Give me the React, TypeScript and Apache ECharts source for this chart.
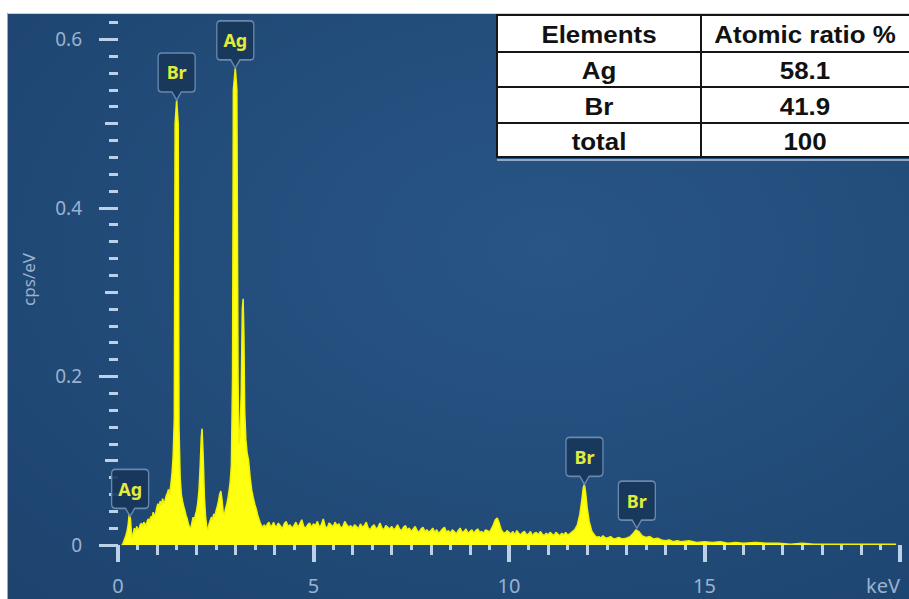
import React, { useEffect, useRef } from 'react';
import * as echarts from 'echarts';

// EDS spectrum, [energy keV, intensity cps/eV]
const spectrumLow: [number, number][] = [
  [0.10, 0], [0.13, 0.002], [0.16, 0.006], [0.20, 0.011], [0.23, 0.016], [0.26, 0.024],
  [0.28, 0.034], [0.30, 0.038], [0.32, 0.030], [0.34, 0.016], [0.36, 0.009], [0.39, 0.014],
  [0.42, 0.020], [0.45, 0.016], [0.48, 0.022], [0.51, 0.018], [0.54, 0.019], [0.57, 0.024],
  [0.60, 0.026], [0.63, 0.021], [0.66, 0.027], [0.69, 0.025], [0.72, 0.023], [0.75, 0.029],
  [0.78, 0.031], [0.81, 0.027], [0.84, 0.034], [0.87, 0.031], [0.90, 0.039], [0.93, 0.035],
  [0.96, 0.037], [0.99, 0.044], [1.02, 0.049], [1.05, 0.045], [1.08, 0.052], [1.11, 0.047],
  [1.14, 0.055], [1.17, 0.050], [1.20, 0.052], [1.23, 0.058], [1.26, 0.061], [1.29, 0.066],
  [1.32, 0.060], [1.35, 0.071], [1.38, 0.084], [1.41, 0.105], [1.44, 0.150], [1.46, 0.500],
  [1.50, 0.528], [1.54, 0.500], [1.56, 0.140], [1.59, 0.080], [1.62, 0.060], [1.65, 0.052],
  [1.68, 0.046], [1.71, 0.041], [1.74, 0.035], [1.77, 0.031], [1.80, 0.025], [1.83, 0.021],
  [1.86, 0.020], [1.89, 0.026], [1.92, 0.033], [1.95, 0.029], [1.98, 0.036], [2.01, 0.041],
  [2.04, 0.050], [2.07, 0.064], [2.10, 0.092], [2.13, 0.128], [2.15, 0.138], [2.18, 0.104],
  [2.21, 0.056], [2.24, 0.034], [2.27, 0.021], [2.30, 0.018], [2.33, 0.025], [2.36, 0.029],
  [2.39, 0.033], [2.42, 0.030], [2.45, 0.037], [2.48, 0.034], [2.51, 0.041], [2.54, 0.046],
  [2.57, 0.052], [2.60, 0.060], [2.63, 0.064], [2.66, 0.054], [2.69, 0.039], [2.72, 0.036],
  [2.75, 0.043], [2.78, 0.048], [2.81, 0.055], [2.84, 0.064], [2.87, 0.075], [2.90, 0.095],
  [2.93, 0.200], [2.95, 0.540], [3.00, 0.566], [3.04, 0.540], [3.07, 0.200], [3.09, 0.120],
  [3.12, 0.130], [3.15, 0.180], [3.18, 0.280], [3.20, 0.292], [3.22, 0.250], [3.24, 0.160],
  [3.27, 0.125], [3.30, 0.110], [3.34, 0.100], [3.38, 0.080], [3.42, 0.065], [3.46, 0.056],
  [3.50, 0.048], [3.54, 0.042], [3.58, 0.034], [3.61, 0.030], [3.64, 0.026], [3.67, 0.023],
  [3.70, 0.020], [3.74, 0.024], [3.78, 0.021], [3.82, 0.025], [3.86, 0.027], [3.90, 0.022],
  [3.94, 0.023], [3.98, 0.027],
];

const spectrumMid: [number, number][] = [
  [4.00, 0.024], [4.05, 0.021], [4.10, 0.026], [4.15, 0.023], [4.20, 0.019], [4.25, 0.025],
  [4.30, 0.028], [4.35, 0.022], [4.40, 0.024], [4.45, 0.020], [4.50, 0.023], [4.55, 0.027],
  [4.60, 0.021], [4.65, 0.025], [4.70, 0.030], [4.75, 0.022], [4.80, 0.020], [4.85, 0.024],
  [4.90, 0.026], [4.95, 0.021], [5.00, 0.025], [5.05, 0.023], [5.10, 0.028], [5.15, 0.021],
  [5.20, 0.024], [5.25, 0.031], [5.30, 0.022], [5.35, 0.020], [5.40, 0.026], [5.45, 0.024],
  [5.50, 0.021], [5.55, 0.027], [5.60, 0.023], [5.65, 0.025], [5.70, 0.020], [5.75, 0.022],
  [5.80, 0.028], [5.85, 0.024], [5.90, 0.021], [5.95, 0.023], [6.00, 0.020], [6.05, 0.024],
  [6.10, 0.022], [6.15, 0.019], [6.20, 0.025], [6.25, 0.021], [6.30, 0.023], [6.35, 0.027],
  [6.40, 0.020], [6.45, 0.018], [6.50, 0.022], [6.55, 0.024], [6.60, 0.019], [6.65, 0.021],
  [6.70, 0.026], [6.75, 0.020], [6.80, 0.018], [6.85, 0.023], [6.90, 0.021], [6.95, 0.019],
  [7.00, 0.022], [7.05, 0.018], [7.10, 0.020], [7.15, 0.024], [7.20, 0.019], [7.25, 0.017],
  [7.30, 0.021], [7.35, 0.023], [7.40, 0.018], [7.45, 0.020], [7.50, 0.016], [7.55, 0.019],
  [7.60, 0.022], [7.65, 0.017], [7.70, 0.015], [7.75, 0.019], [7.80, 0.021], [7.85, 0.016],
  [7.90, 0.018], [7.95, 0.015], [8.00, 0.017], [8.05, 0.020], [8.10, 0.015], [8.15, 0.018],
  [8.20, 0.014], [8.25, 0.016], [8.30, 0.019], [8.35, 0.021], [8.40, 0.015], [8.45, 0.017],
  [8.50, 0.014], [8.55, 0.018], [8.60, 0.016], [8.65, 0.013], [8.70, 0.017], [8.75, 0.020],
  [8.80, 0.015], [8.85, 0.016], [8.90, 0.019], [8.95, 0.014], [9.00, 0.016], [9.05, 0.018],
  [9.10, 0.014], [9.15, 0.017], [9.20, 0.019], [9.25, 0.015], [9.30, 0.016], [9.35, 0.014],
  [9.40, 0.018], [9.45, 0.017], [9.50, 0.015], [9.55, 0.019], [9.60, 0.024], [9.65, 0.030],
  [9.70, 0.032], [9.75, 0.026], [9.80, 0.018], [9.85, 0.015], [9.90, 0.014], [9.95, 0.017],
];

const spectrumHigh: [number, number][] = [
  [10.0, 0.015], [10.05, 0.013], [10.1, 0.016], [10.15, 0.012], [10.2, 0.017], [10.25, 0.014],
  [10.3, 0.012], [10.35, 0.015], [10.4, 0.016], [10.45, 0.012], [10.5, 0.013], [10.55, 0.016],
  [10.6, 0.011], [10.65, 0.014], [10.7, 0.015], [10.75, 0.012], [10.8, 0.016], [10.85, 0.013],
  [10.9, 0.011], [10.95, 0.014], [11.0, 0.012], [11.05, 0.015], [11.1, 0.013], [11.15, 0.011],
  [11.2, 0.015], [11.25, 0.013], [11.3, 0.011], [11.35, 0.014], [11.4, 0.012], [11.45, 0.015],
  [11.5, 0.012], [11.55, 0.013], [11.6, 0.015], [11.68, 0.018], [11.75, 0.024], [11.81, 0.036],
  [11.86, 0.052], [11.90, 0.068], [11.93, 0.072], [11.96, 0.062], [12.0, 0.044], [12.05, 0.028],
  [12.12, 0.016], [12.2, 0.011], [12.25, 0.009], [12.3, 0.010], [12.35, 0.008], [12.4, 0.011],
  [12.45, 0.009], [12.5, 0.008], [12.6, 0.010], [12.65, 0.008], [12.7, 0.007], [12.8, 0.009],
  [12.85, 0.008], [12.9, 0.007], [13.0, 0.008], [13.1, 0.010], [13.18, 0.014], [13.25, 0.018],
  [13.32, 0.016], [13.4, 0.011], [13.5, 0.009], [13.6, 0.010], [13.7, 0.007], [13.8, 0.008],
  [13.9, 0.006], [14.0, 0.005], [14.1, 0.006], [14.2, 0.004], [14.3, 0.005], [14.4, 0.004],
  [14.6, 0.005], [14.8, 0.003], [15.0, 0.004], [15.2, 0.003], [15.4, 0.004], [15.6, 0.002],
  [15.8, 0.003], [16.0, 0.002], [16.3, 0.003], [16.6, 0.002], [16.9, 0.002], [17.2, 0.001],
  [17.5, 0.002], [17.8, 0.001], [18.2, 0.001], [18.6, 0.001], [19.0, 0.001], [19.4, 0.001],
  [19.9, 0.001],
];

// identified lines: element, energy (keV), callout tip (cps/eV)
const peakElements = ['Ag', 'Br', 'Ag', 'Br', 'Br'];
const peakEnergies = [0.31, 1.50, 3.00, 11.93, 13.27];
const peakTips = [0.034, 0.528, 0.566, 0.072, 0.020];

// axis ticks
const yMajorTicks = [0, 0.2, 0.4, 0.6];
const yMidTicks = [0.1, 0.3, 0.5];
const yMinorStep = 0.02;
const yMax = 0.63;
const xMax = 20;

// composition table
const tableHeader = ['Elements', 'Atomic ratio %'];
const tableElements = ['Ag', 'Br', 'total'];
const tableRatios = ['58.1', '41.9', '100'];

const uiFont = '"Noto Sans", "Open Sans", sans-serif';
const tableFont = '"Liberation Sans", Arial, sans-serif';
const tickColor = '#bcd0e8';
const labelColor = '#9bb2cf';

function buildOption() {
  const spectrum = [...spectrumLow, ...spectrumMid, ...spectrumHigh];

  const yMinorTicks: number[] = [];
  for (let i = 0; i * yMinorStep <= yMax; i++) yMinorTicks.push(+(i * yMinorStep).toFixed(2));

  const xBase = {
    type: 'value', min: 0, max: xMax, position: 'bottom', offset: 6,
    axisLine: { show: false }, splitLine: { show: false }, axisLabel: { show: false },
  };
  const yBase = {
    type: 'value', min: 0, max: yMax, position: 'left', offset: 11,
    axisLine: { show: false }, splitLine: { show: false }, axisLabel: { show: false },
  };

  // table geometry
  const tL = 497, tT = 15, tR = 912, colX = 701;
  const rowY = [15, 52, 87, 123, 157];
  const tableChildren: any[] = [
    { type: 'rect', z: 100, shape: { x: tL, y: tT, width: tR - tL, height: rowY[4] - tT },
      style: { fill: '#ffffff', stroke: '#151515', lineWidth: 2 } },
    { type: 'line', z: 101, shape: { x1: colX, y1: tT, x2: colX, y2: rowY[4] },
      style: { stroke: '#151515', lineWidth: 2 } },
    { type: 'line', z: 99, shape: { x1: tL, y1: rowY[4] + 3, x2: tR, y2: rowY[4] + 3 },
      style: { stroke: 'rgba(190,205,225,0.7)', lineWidth: 2 } },
  ];
  for (let r = 1; r < 4; r++) {
    tableChildren.push({ type: 'line', z: 101, shape: { x1: tL, y1: rowY[r], x2: tR, y2: rowY[r] },
      style: { stroke: '#151515', lineWidth: 2 } });
  }
  const cellText = (text: string, cx: number, cy: number) => ({
    type: 'text', z: 102, x: cx, y: cy + 1, scaleX: 1.08,
    style: {
      text, x: 0, y: 0, fill: '#111', font: `bold 24px ${tableFont}`,
      textAlign: 'center', textVerticalAlign: 'middle', align: 'center', verticalAlign: 'middle',
    },
  });
  const c1 = (tL + colX) / 2, c2 = (colX + 909) / 2;
  tableChildren.push(cellText(tableHeader[0], c1, (rowY[0] + rowY[1]) / 2));
  tableChildren.push(cellText(tableHeader[1], c2, (rowY[0] + rowY[1]) / 2));
  tableElements.forEach((el, i) => {
    const cy = (rowY[i + 1] + rowY[i + 2]) / 2;
    tableChildren.push(cellText(el, c1, cy));
    tableChildren.push(cellText(tableRatios[i], c2, cy));
  });

  return {
    animation: false,
    backgroundColor: '#ffffff',
    grid: { left: 118, right: 909 - 900, top: 14, bottom: 599 - 545, containLabel: false },
    graphic: [
      {
        type: 'rect', z: -10, silent: true,
        shape: { x: 8, y: 14, width: 901, height: 585 },
        style: {
          fill: new echarts.graphic.RadialGradient(0.6, 0.4, 0.85, [
            { offset: 0, color: '#285586' },
            { offset: 1, color: '#1d436e' },
          ]),
        },
      },
      { type: 'line', z: -9, silent: true, shape: { x1: 7.5, y1: 13, x2: 7.5, y2: 599 },
        style: { stroke: '#a4a8ad', lineWidth: 1 } },
      { type: 'line', z: -9, silent: true, shape: { x1: 8, y1: 13.5, x2: 909, y2: 13.5 },
        style: { stroke: '#d6cfc6', lineWidth: 1 } },
      ...tableChildren,
    ],
    xAxis: [
      {
        ...xBase, interval: 5,
        axisTick: { show: true, length: 17, lineStyle: { color: tickColor, width: 4 } },
        axisLabel: {
          show: true, margin: 24, color: labelColor, fontSize: 20, fontFamily: uiFont,
          alignMaxLabel: 'right',
          formatter: (v: number) => (v === xMax ? 'keV' : String(v)),
        },
      },
      { ...xBase, interval: 1, axisTick: { show: true, length: 10, lineStyle: { color: tickColor, width: 3 } } },
      { ...xBase, interval: 0.5, axisTick: { show: true, length: 5, lineStyle: { color: tickColor, width: 3 } } },
    ],
    yAxis: [
      {
        ...yBase,
        name: 'cps/eV', nameLocation: 'middle', nameGap: 70, nameRotate: 90,
        nameTextStyle: { color: labelColor, fontSize: 17, fontFamily: uiFont },
        axisTick: { show: true, length: 19, customValues: yMajorTicks, lineStyle: { color: tickColor, width: 3 } },
        axisLabel: {
          show: true, customValues: yMajorTicks, margin: 25, color: labelColor,
          fontSize: 19, fontFamily: uiFont,
        },
      },
      { ...yBase, axisTick: { show: true, length: 13, customValues: yMidTicks, lineStyle: { color: tickColor, width: 3 } } },
      { ...yBase, axisTick: { show: true, length: 9, customValues: yMinorTicks, lineStyle: { color: tickColor, width: 3 } } },
    ],
    series: [
      {
        type: 'line',
        xAxisIndex: 0, yAxisIndex: 0,
        data: spectrum,
        symbol: 'none',
        smooth: false,
        lineStyle: { color: '#f2f200', width: 1.5 },
        areaStyle: { color: '#ffff10', opacity: 1 },
        z: 2,
        markPoint: {
          symbol: 'path://M4,0 L36,0 Q40,0 40,4 L40,35 Q40,39 36,39 L25,39 L20,47 L15,39 L4,39 Q0,39 0,35 L0,4 Q0,0 4,0 Z',
          symbolSize: [37, 47],
          symbolOffset: [0, '-50%'],
          symbolKeepAspect: false,
          itemStyle: { color: 'rgba(24,54,90,0.92)', borderColor: '#6888ae', borderWidth: 1.5 },
          label: {
            show: true, position: 'inside', offset: [0, -4], formatter: '{b}',
            color: '#e2ec3a', fontSize: 18, fontWeight: 'bold', fontFamily: uiFont,
          },
          data: peakElements.map((el, i) => ({ name: el, coord: [peakEnergies[i], peakTips[i]] })),
        },
      },
    ],
  };
}

export default function App() {
  const ref = useRef<HTMLDivElement>(null);
  useEffect(() => {
    if (!ref.current) return;
    const chart = echarts.init(ref.current, null, { renderer: 'svg' });
    chart.setOption(buildOption() as any);
    return () => chart.dispose();
  }, []);
  return (
    <div
      ref={ref}
      style={{ position: 'absolute', left: 0, top: 0, width: 909, height: 599, background: '#fff' }}
    />
  );
}
